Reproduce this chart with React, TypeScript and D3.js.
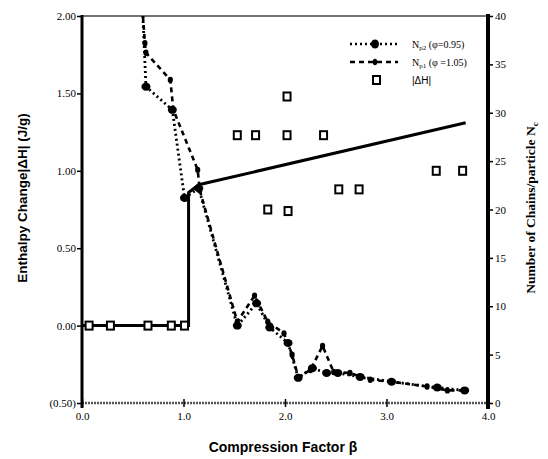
import * as d3 from "d3";
import { useEffect, useRef } from "react";

// compression factor (beta) vs number of chains per particle, right axis
const np2Beta = [0.6, 0.63, 0.89, 1.01, 1.15, 1.53, 1.72, 1.85, 2.03, 2.13, 2.27, 2.41, 2.52, 2.74, 3.05, 3.5, 3.77];
const np2Value = [40, 32.7, 30.3, 21.2, 22.2, 8.0, 10.3, 7.8, 6.2, 2.6, 3.6, 3.1, 3.1, 2.7, 2.2, 1.6, 1.3];

const np1Beta = [0.6, 0.62, 0.63, 0.87, 0.9, 1.14, 1.16, 1.53, 1.7, 1.83, 1.99, 2.07, 2.13, 2.25, 2.37, 2.48, 2.64, 2.84, 3.05, 3.4, 3.6, 3.77];
const np1Value = [40, 37.2, 36.2, 33.4, 30.3, 24.1, 22.0, 8.4, 11.1, 8.4, 7.2, 5.0, 2.7, 3.4, 5.9, 3.2, 3.1, 2.4, 2.2, 1.7, 1.3, 1.3];

// enthalpy change |dH| (J/g), left axis
const dhBeta = [0.07, 0.28, 0.65, 0.88, 1.01, 1.53, 1.71, 2.02, 2.38, 2.02, 1.83, 2.03, 2.53, 2.73, 3.49, 3.75];
const dhValue = [0, 0, 0, 0, 0, 1.23, 1.23, 1.23, 1.23, 1.48, 0.75, 0.74, 0.88, 0.88, 1.0, 1.0];

// solid step line, left axis
const stepBeta = [0, 1.05, 1.05, 1.15, 3.78];
const stepValue = [0, 0, 0.86, 0.91, 1.31];

const xTicks = [0, 1, 2, 3, 4];
const leftTicks = [-0.5, 0, 0.5, 1.0, 1.5, 2.0];
const rightTicks = [0, 5, 10, 15, 20, 25, 30, 35, 40];

const serif = "'Liberation Serif', 'Times New Roman', serif";
const sans = "'Liberation Sans', 'DejaVu Sans', sans-serif";

const App = () => {
  const ref = useRef<HTMLDivElement>(null);

  useEffect(() => {
    d3.select(ref.current).select("svg").remove();

    const W = 548, H = 459;
    const left = 82, right = 488, top = 16, bottom = 403;

    const svg = d3
      .select(ref.current)
      .append("svg")
      .attr("width", W)
      .attr("height", H)
      .style("background", "#fff");

    const x = d3.scaleLinear().domain([0, 4]).range([left, right]);
    const yL = d3.scaleLinear().domain([-0.5, 2]).range([bottom, top]);
    const yR = d3.scaleLinear().domain([0, 40]).range([bottom, top]);

    const fmtL = (v: number) => (v < 0 ? `(${d3.format(".2f")(-v)})` : d3.format(".2f")(v));

    // frame
    svg.append("line").attr("x1", left).attr("x2", right).attr("y1", top).attr("y2", top)
      .attr("stroke", "#444").attr("stroke-width", 1.6);
    svg.append("line").attr("x1", left).attr("x2", right).attr("y1", bottom).attr("y2", bottom)
      .attr("stroke", "#555").attr("stroke-width", 2.5).attr("stroke-dasharray", "2,1");

    // left axis
    const gl = svg.append("g").attr("transform", `translate(${left},0)`)
      .call(d3.axisLeft(yL).tickValues(leftTicks).tickFormat(fmtL as any).tickSize(5).tickSizeOuter(0));
    gl.select(".domain").remove();
    gl.selectAll("line").attr("stroke", "#000").attr("stroke-width", 1.5);
    gl.selectAll("text").attr("font-family", serif).attr("font-size", 11).attr("x", -6).attr("fill", "#000");
    svg.append("line").attr("x1", left).attr("x2", left).attr("y1", top - 1).attr("y2", bottom + 5)
      .attr("stroke", "#000").attr("stroke-width", 3);

    // right axis
    const gr = svg.append("g").attr("transform", `translate(${right},0)`)
      .call(d3.axisRight(yR).tickValues(rightTicks).tickFormat(d3.format("d") as any).tickSize(5).tickSizeOuter(0));
    gr.select(".domain").remove();
    gr.selectAll("line").attr("stroke", "#000").attr("stroke-width", 1.5);
    gr.selectAll("text").attr("font-family", serif).attr("font-size", 11).attr("x", 7).attr("fill", "#000");
    svg.append("line").attr("x1", right).attr("x2", right).attr("y1", top - 2).attr("y2", bottom + 6)
      .attr("stroke", "#000").attr("stroke-width", 4);

    // bottom axis
    const gb = svg.append("g").attr("transform", `translate(0,${bottom})`)
      .call(d3.axisBottom(x).tickValues(xTicks).tickFormat(d3.format(".1f") as any).tickSize(4).tickSizeOuter(0));
    gb.select(".domain").remove();
    gb.selectAll("line").attr("stroke", "#000").attr("stroke-width", 1.5).attr("y1", -4);
    gb.selectAll("text").attr("font-family", serif).attr("font-size", 11).attr("y", 9).attr("fill", "#000");

    // axis titles
    svg.append("text")
      .attr("transform", `translate(27,198) rotate(-90)`)
      .attr("text-anchor", "middle")
      .attr("font-family", sans).attr("font-weight", "bold").attr("font-size", 13.5)
      .text("Enthalpy Change|\u0394H| (J/g)");

    const rt = svg.append("text")
      .attr("transform", `translate(535,208) rotate(-90)`)
      .attr("text-anchor", "middle")
      .attr("font-family", serif).attr("font-weight", "bold").attr("font-size", 13.5);
    rt.append("tspan").text("Number of Chains/particle N");
    rt.append("tspan").attr("font-size", 9).attr("dy", 3).text("c");

    svg.append("text")
      .attr("x", 283).attr("y", 452)
      .attr("text-anchor", "middle")
      .attr("font-family", sans).attr("font-weight", "bold").attr("font-size", 14)
      .text("Compression Factor \u03b2");

    const plot = svg.append("g");

    // solid step line
    const stepData = stepBeta.map((b, i) => [b, stepValue[i]] as [number, number]);
    plot.append("path")
      .datum(stepData)
      .attr("fill", "none").attr("stroke", "#000").attr("stroke-width", 3)
      .attr("d", d3.line<[number, number]>().x((d) => x(d[0])).y((d) => yL(d[1])));

    // Np1 dashed
    const np1 = np1Beta.map((b, i) => [b, np1Value[i]] as [number, number]);
    plot.append("path")
      .datum(np1)
      .attr("fill", "none").attr("stroke", "#000").attr("stroke-width", 2.6)
      .attr("stroke-dasharray", "5,4")
      .attr("d", d3.line<[number, number]>().x((d) => x(d[0])).y((d) => yR(d[1])));
    plot.selectAll(".np1")
      .data(np1.slice(1))
      .join("ellipse")
      .attr("cx", (d) => x(d[0])).attr("cy", (d) => yR(d[1]))
      .attr("rx", 2.6).attr("ry", 3.2).attr("fill", "#000");

    // Np2 dotted
    const np2 = np2Beta.map((b, i) => [b, np2Value[i]] as [number, number]);
    plot.append("path")
      .datum(np2)
      .attr("fill", "none").attr("stroke", "#000").attr("stroke-width", 2.8)
      .attr("stroke-dasharray", "2,3")
      .attr("d", d3.line<[number, number]>().x((d) => x(d[0])).y((d) => yR(d[1])));
    plot.selectAll(".np2")
      .data(np2.slice(1))
      .join("ellipse")
      .attr("cx", (d) => x(d[0])).attr("cy", (d) => yR(d[1]))
      .attr("rx", 4.5).attr("ry", 4).attr("fill", "#000");

    // |dH| squares
    const dh = dhBeta.map((b, i) => [b, dhValue[i]] as [number, number]);
    plot.selectAll(".dh")
      .data(dh)
      .join("rect")
      .attr("x", (d) => x(d[0]) - 3.5).attr("y", (d) => yL(d[1]) - 4)
      .attr("width", 7).attr("height", 8)
      .attr("fill", "#fff").attr("stroke", "#000").attr("stroke-width", 2);

    // legend
    const lg = svg.append("g").attr("font-family", serif).attr("font-size", 10);
    const items = [
      { sub: "p2", rest: " (\u03c6=0.95)", dash: "2,3", w: 2.6, rx: 4, ry: 4.5 },
      { sub: "p1", rest: " (\u03c6 =1.05)", dash: "5,4", w: 2.6, rx: 2.2, ry: 3.2 },
    ];
    items.forEach((it, i) => {
      const yy = 44 + i * 18;
      lg.append("line").attr("x1", 350).attr("x2", 398).attr("y1", yy).attr("y2", yy)
        .attr("stroke", "#000").attr("stroke-width", it.w).attr("stroke-dasharray", it.dash);
      lg.append("ellipse").attr("cx", 375).attr("cy", yy).attr("rx", it.rx).attr("ry", it.ry).attr("fill", "#000");
      const t = lg.append("text").attr("x", 412).attr("y", yy + 3.5);
      t.append("tspan").text("N");
      t.append("tspan").attr("font-size", 7).attr("dy", 2).text(it.sub);
      t.append("tspan").attr("dy", -2).text(it.rest);
    });
    lg.append("rect").attr("x", 373).attr("y", 76).attr("width", 7).attr("height", 8)
      .attr("fill", "#fff").attr("stroke", "#000").attr("stroke-width", 2);
    lg.append("text").attr("x", 412).attr("y", 84).attr("font-family", sans).attr("font-size", 10).text("|\u0394H|");
  }, []);

  return <div ref={ref} style={{ position: "absolute", left: 0, top: 0 }} />;
};

export default App;
